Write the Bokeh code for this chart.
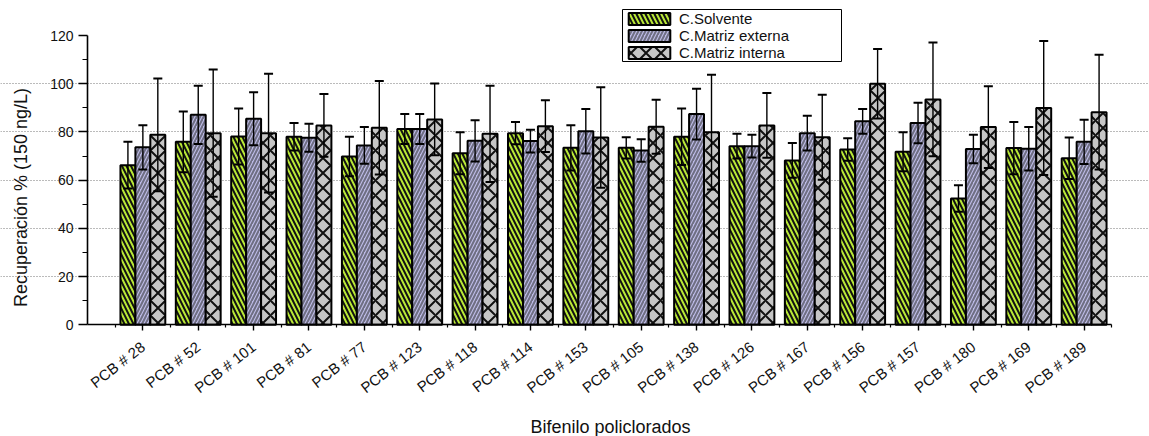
import math

from bokeh.plotting import figure
from bokeh.models import (ColumnDataSource, Range1d, FixedTicker, Whisker, TeeHead,
                          Legend, LegendItem, Label, BoxAnnotation)
from bokeh.transform import dodge
from bokeh.embed import file_html
from bokeh.resources import INLINE

# Recovery (%) of each PCB congener at 150 ng/L, mean and standard deviation
compounds = ["PCB # 28", "PCB # 52", "PCB # 101", "PCB # 81", "PCB # 77", "PCB # 123",
             "PCB # 118", "PCB # 114", "PCB # 153", "PCB # 105", "PCB # 138", "PCB # 126",
             "PCB # 167", "PCB # 156", "PCB # 157", "PCB # 180", "PCB # 169", "PCB # 189"]

solvente = [66.2, 75.9, 78.1, 78.0, 69.8, 81.2, 71.2, 79.5, 73.4, 73.4, 78.0, 74.1,
            68.2, 72.7, 71.8, 52.4, 73.3, 69.1]
solvente_sd = [9.7, 12.6, 11.6, 5.7, 8.2, 6.2, 8.7, 4.6, 9.4, 4.4, 11.7, 5.1,
               7.2, 4.7, 8.1, 5.5, 10.8, 8.6]

externa = [73.6, 87.1, 85.5, 77.6, 74.4, 81.2, 76.3, 76.2, 80.3, 72.3, 87.4, 74.1,
           79.5, 84.4, 83.7, 72.9, 73.0, 75.9]
externa_sd = [9.2, 12.1, 11.0, 5.8, 7.6, 6.2, 8.6, 4.7, 9.2, 4.7, 10.5, 4.7,
              7.2, 5.1, 8.4, 5.9, 9.0, 9.2]

interna = [78.8, 79.5, 79.5, 82.7, 81.7, 85.2, 79.2, 82.4, 77.7, 82.2, 79.9, 82.7,
           77.8, 100.0, 93.5, 82.0, 89.9, 88.2]
interna_sd = [23.4, 26.4, 24.6, 13.0, 19.4, 14.9, 20.0, 10.7, 20.8, 11.2, 23.8, 13.4,
              17.6, 14.4, 23.6, 17.0, 27.8, 23.8]

series_names = ["C.Solvente", "C.Matriz externa", "C.Matriz interna"]

positions = list(range(1, len(compounds) + 1))
bar_w = 0.27

# The plotting frame fills the whole canvas; the axes are pinned at x=0 / y=0
# and the ranges leave room around them for tick labels, titles and legend.
p = figure(width=1149, height=436, output_backend="svg", toolbar_location=None,
           x_range=Range1d(-1.5713, 19.1806), y_range=Range1d(-46.33, 134.52),
           min_border=0, background_fill_color="white", border_fill_color="white")
p.outline_line_color = None

styles = [
    dict(fill_color="#b9e836", hatch_pattern="left_diagonal_line", hatch_color="#111111",
         hatch_weight=2.0, hatch_scale=9),
    dict(fill_color="#bdbbe6", hatch_pattern="right_diagonal_line", hatch_color="#6e6e82",
         hatch_weight=2.0, hatch_scale=7),
    dict(fill_color="#c6c6c6", hatch_pattern="diagonal_cross", hatch_color="#111111",
         hatch_weight=2.0, hatch_scale=15),
]
offsets = [-bar_w, 0.0, bar_w]
data = [(solvente, solvente_sd), (externa, externa_sd), (interna, interna_sd)]

renderers = []
for name, (vals, sds), style, off in zip(series_names, data, styles, offsets):
    src = ColumnDataSource(dict(
        pos=positions,
        top=vals,
        upper=[v + s for v, s in zip(vals, sds)],
        lower=[v - s for v, s in zip(vals, sds)],
    ))
    r = p.vbar(x=dodge("pos", off, range=p.x_range), top="top", bottom=0, width=bar_w,
               source=src, line_color="black", line_width=2, **style)
    w = Whisker(source=src, base=dodge("pos", off, range=p.x_range), upper="upper",
                lower="lower", line_color="black", line_width=1.4,
                upper_head=TeeHead(size=9, line_color="black", line_width=2),
                lower_head=TeeHead(size=9, line_color="black", line_width=2))
    w.level = "overlay"
    p.add_layout(w)
    renderers.append(r)

# axes
font = "Liberation Sans"
p.xaxis.fixed_location = 0
p.yaxis.fixed_location = 0
p.xaxis.ticker = FixedTicker(ticks=positions,
                             minor_ticks=[i + 0.5 for i in range(0, len(compounds) + 1)])
p.xaxis.major_label_overrides = {i: c for i, c in zip(positions, compounds)}
p.xaxis.major_label_orientation = math.radians(38)
p.xaxis.bounds = (0, len(compounds) + 0.5)
p.yaxis.ticker = FixedTicker(ticks=list(range(0, 121, 20)),
                             minor_ticks=list(range(10, 120, 20)))
p.yaxis.bounds = (0, 120)
for ax in (p.xaxis[0], p.yaxis[0]):
    ax.axis_line_color = "black"
    ax.axis_line_width = 1.6
    ax.major_tick_line_color = "black"
    ax.minor_tick_line_color = "black"
    ax.major_tick_line_width = 1.4
    ax.minor_tick_line_width = 1.2
    ax.major_tick_in = 0
    ax.minor_tick_in = 0
    ax.major_label_text_font = font
    ax.major_label_text_color = "#111111"
p.xaxis.major_label_text_font_size = "15px"
p.yaxis.major_label_text_font_size = "14px"
p.xaxis.major_tick_out = 6
p.xaxis.minor_tick_out = 3
p.xaxis.major_label_standoff = 14
p.yaxis.major_tick_out = 9
p.yaxis.minor_tick_out = 5
p.yaxis.major_label_standoff = 5

p.xgrid.visible = False
p.ygrid.ticker = FixedTicker(ticks=[20, 40, 60, 80, 100])
p.ygrid.bounds = (0, 19)
p.ygrid.grid_line_color = "#777777"
p.ygrid.grid_line_dash = "1 2"
p.ygrid.grid_line_width = 1

# axis titles
p.add_layout(Label(x=20, y=239, x_units="screen", y_units="screen",
                   text="Recuperación % (150 ng/L)", angle=math.pi / 2,
                   text_align="center", text_baseline="middle",
                   text_font=font, text_font_size="18px", text_color="#111111"))
p.add_layout(Label(x=610, y=10, x_units="screen", y_units="screen",
                   text="Bifenilo policlorados", text_align="center",
                   text_baseline="middle", text_font=font, text_font_size="18px",
                   text_color="#111111"))

# legend: one framed box holding three stacked rows
p.add_layout(BoxAnnotation(left=622, right=841, bottom=375, top=427,
                           left_units="screen", right_units="screen",
                           bottom_units="screen", top_units="screen",
                           fill_color="white", fill_alpha=1,
                           line_color="black", line_width=1, line_alpha=1))
row_bottoms = [409, 392, 375]
for name, r, yb in zip(series_names, renderers, row_bottoms):
    p.add_layout(Legend(items=[LegendItem(label=name, renderers=[r])],
                        location=(623, yb), border_line_color=None,
                        background_fill_alpha=0, padding=0, spacing=0, margin=0,
                        glyph_width=52, glyph_height=15, label_standoff=4,
                        label_text_font=font, label_text_font_size="15px",
                        label_text_color="#111111"))

open("out.html", "w").write(file_html(p, INLINE))
